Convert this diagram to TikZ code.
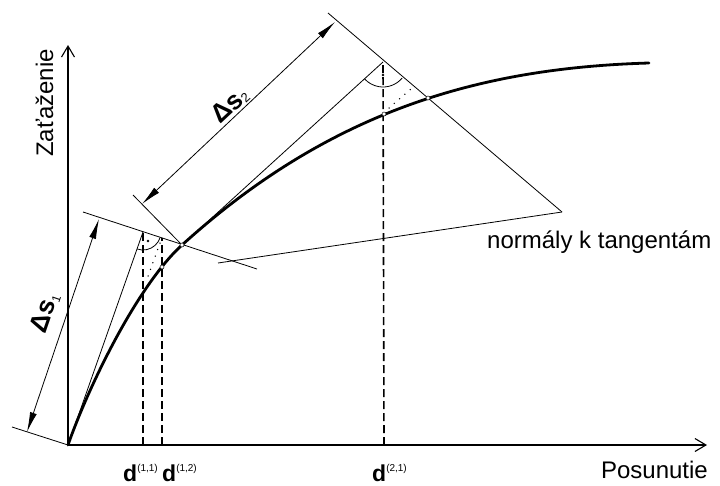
\documentclass[tikz,border=0pt]{standalone}
\usepackage{fontspec}
\setmainfont{Liberation Sans}
\usetikzlibrary{arrows.meta}

\begin{document}
\begin{tikzpicture}[
    x=1pt, y=-1pt,
    axis/.style={line width=1.1pt, -{Straight Barb[length=11pt, width=13pt, line width=1.1pt]}},
    guide/.style={line width=0.8pt},
    loadpath/.style={line width=2.8pt, line cap=round},
    dimline/.style={line width=0.8pt, {Latex[length=20pt, width=7pt]}-{Latex[length=20pt, width=7pt]}},
    projline/.style={line width=1.6pt, dash pattern=on 8pt off 4pt},
    dotline/.style={line width=1.5pt, dash pattern=on 0pt off 7pt, line cap=round},
    axislabel/.style={font=\fontsize{24}{28}\selectfont, inner sep=0pt},
    dlabel/.style={font=\fontsize{23}{27}\selectfont\bfseries, inner sep=0pt},
    dslabel/.style={font=\fontsize{26}{30}\selectfont\bfseries, inner sep=0pt},
    hitpoint/.style={circle, draw, fill=white, inner sep=0pt, minimum size=4pt, line width=0.5pt},
]
\useasboundingbox (0,0) rectangle (720,485);

% axes and curve points
\coordinate (O) at (68,445);
\coordinate (Ytip) at (68,45);
\coordinate (Xtip) at (707,445);
\coordinate (T0) at (12,427);
\coordinate (T1a) at (83,212);
\coordinate (T1b) at (257,269);
\coordinate (T2a) at (133,195);
\coordinate (T3a) at (328,13);
\coordinate (T3b) at (562,212);
\coordinate (A1) at (143,232);
\coordinate (A2) at (383,62);
\coordinate (F12) at (162,238);
\coordinate (D11) at (143,445);
\coordinate (D12) at (162,445);
\coordinate (D21) at (384,445);
\coordinate (S1a) at (27,432);
\coordinate (S1b) at (99,219);
\coordinate (S2a) at (142,204);
\coordinate (S2b) at (335,22);
\coordinate (N0) at (218,263);
\coordinate (E1a) at (160,243);
\coordinate (E1b) at (146,282);
\coordinate (E2a) at (389,108);
\coordinate (E2b) at (412,88);
\coordinate (P1) at (182,245);
\coordinate (Pend) at (649,63);

\draw[projline] (D11) -- (A1);
\draw[projline] (D12) -- (F12);
\draw[projline] (D21) -- (A2);

\draw[axis] (O) -- (Ytip);
\draw[axis] (O) -- (Xtip);

\draw[loadpath] (O) .. controls (89,385) and (138,285) .. (P1)
    .. controls (330,111) and (479,68) .. (Pend);

\coordinate (P2) at (428,98);
\coordinate (Q12) at (162,267);
\coordinate (Q21) at (384,114);

% tangents and normals
\draw[guide] (O) -- (A1);
\draw[guide] (P1) -- (A2);
\draw[guide] (T0) -- (O);
\draw[guide] (T1a) -- (T1b);
\draw[guide] (T2a) -- (P1);
\draw[guide] (T3a) -- (T3b);
\draw[guide] (N0) -- (T3b);

\draw[dimline] (S1a) -- (S1b);
\draw[dimline] (S2a) -- (S2b);
\node[dslabel, rotate=71] (ds1) at (45,313) {Δs\raisebox{-3pt}{\fontsize{12}{14}\selectfont\mdseries 1}};
\node[dslabel, rotate=43] (ds2) at (230,105) {Δs\raisebox{-1pt}{\fontsize{13}{15}\selectfont\mdseries 2}};

% right angle marks
\draw[guide] ([shift={(18:18)}]A1) arc[start angle=18, end angle=110, radius=18];
\fill (148,241) circle[radius=1.4];
\draw[guide] ([shift={(40:25)}]A2) arc[start angle=40, end angle=138, radius=25];
\fill (383,75) circle[radius=1.4];

\draw[dotline] (E1a) -- (E1b);
\draw[dotline] (E2a) -- (E2b);

\node[hitpoint] (h1) at (P1) {};
\node[hitpoint] (h2) at (P2) {};
\node[hitpoint] (h3) at (Q12) {};
\node[hitpoint] (h4) at (Q21) {};

% labels
\node[axislabel, rotate=90, anchor=base west] (ylab) at (53,157) {Zaťaženie};
\node[axislabel, anchor=base east] (xlab) at (708,478) {Posunutie};
\node[axislabel, anchor=base west] (nlab) at (487,248) {normály k tangentám};
\node[dlabel, anchor=base west] (d11) at (123,481) {d\raisebox{10pt}{\fontsize{10}{12}\selectfont\mdseries(1,1)}};
\node[dlabel, anchor=base west] (d12) at (162,481) {d\raisebox{10pt}{\fontsize{10}{12}\selectfont\mdseries(1,2)}};
\node[dlabel, anchor=base west] (d21) at (372,481) {d\raisebox{10pt}{\fontsize{10}{12}\selectfont\mdseries(2,1)}};

\end{tikzpicture}
\end{document}
